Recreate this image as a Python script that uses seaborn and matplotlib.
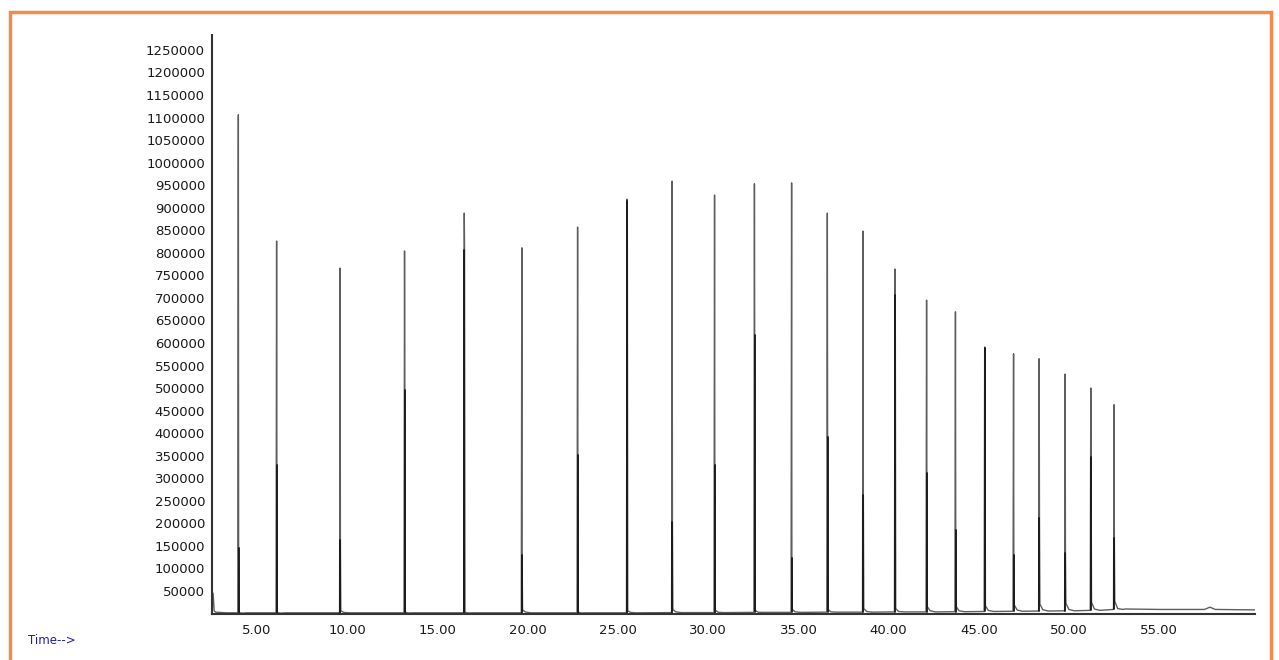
import numpy as np
import pandas as pd
import matplotlib
matplotlib.use("Agg")
import matplotlib.pyplot as plt
from matplotlib.patches import Rectangle
from matplotlib.ticker import MultipleLocator, FuncFormatter
import seaborn as sns

sns.set_style("white")
plt.rcParams['font.family'] = ['DejaVu Sans']

# 峰的保留时间 (min) 与丰度
peak_times = [3.96, 6.08, 9.60, 13.17, 16.48, 19.67, 22.76, 25.50, 28.00, 30.35, 32.56, 34.62,
              36.60, 38.58, 40.35, 42.10, 43.70, 45.32, 46.92, 48.34, 49.78, 51.20, 52.49]
peak_heights = [1106000, 826000, 766000, 804000, 888000, 811000, 857000, 919000, 959000, 928000,
                953000, 955000, 888000, 848000, 764000, 695000, 669000, 591000, 576000, 565000,
                531000, 500000, 463000]
inner_heights = [145000, 329000, 163000, 496000, 806000, 130000, 352000, 915000, 203000, 329000,
                 618000, 123000, 392000, 263000, 707000, 312000, 185000, 588000, 130000, 212000,
                 134000, 347000, 167000]
tail_heights = [2000, 2000, 6000, 3000, 3000, 8000, 3000, 6000, 9000, 7000, 7000, 9000,
                9000, 11000, 11000, 15000, 15000, 17000, 19000, 21000, 23000, 25000, 27000]
base_levels = [1500, 1500, 1500, 1500, 1500, 1500, 1500, 1500, 2000, 2000, 2500, 2500,
               3000, 3000, 3500, 3500, 4000, 4500, 5000, 5500, 6000, 7000, 9000]

# 起始溶剂峰和尾部基线
start_t = [2.50, 2.56, 2.62, 2.70, 3.30]
start_y = [0, 45000, 6000, 3000, 1500]
end_t = [53.10, 55.00, 57.50, 57.80, 58.10, 60.30]
end_y = [10000, 9000, 9000, 14000, 9000, 8000]

y_ticks = list(range(50000, 1250001, 50000))
x_ticks = [5, 10, 15, 20, 25, 30, 35, 40, 45, 50, 55]

# 组装色谱曲线
ts = list(start_t)
ys = list(start_y)
for t, h, ih, th, bl in zip(peak_times, peak_heights, inner_heights, tail_heights, base_levels):
    ts += [t - 0.03, t, t + 0.015, t + 0.04, t + 0.2, t + 0.5]
    ys += [bl, h, ih, th, th * 0.4, bl]
ts += end_t
ys += end_y
df = pd.DataFrame({'time': ts, 'abundance': ys})

# 峰下部较深的部分
inner_rows = []
for i, (t, ih, bl) in enumerate(zip(peak_times, inner_heights, base_levels)):
    inner_rows.append({'peak': i, 'time': t + 0.01, 'abundance': bl})
    inner_rows.append({'peak': i, 'time': t + 0.01, 'abundance': ih})
inner_df = pd.DataFrame(inner_rows)

fig = plt.figure(figsize=(12.79, 6.60), dpi=100)
ax = fig.add_axes([212 / 1279, (660 - 613.5) / 660, (1255 - 212) / 1279, (613.5 - 35) / 660])

sns.lineplot(data=df, x='time', y='abundance', sort=False, estimator=None,
             color='#5e5e5e', linewidth=1.0, ax=ax)
sns.lineplot(data=inner_df, x='time', y='abundance', units='peak', sort=False, estimator=None,
             color='#151515', linewidth=1.3, ax=ax)

ax.set_xlim(2.5, 60.3)
ax.set_ylim(0, 1283000)
ax.set_xticks(x_ticks)
ax.xaxis.set_minor_locator(MultipleLocator(1))
ax.xaxis.set_major_formatter(FuncFormatter(lambda v, p: f"{v:.2f}"))
ax.set_yticks(y_ticks)
ax.yaxis.set_minor_locator(MultipleLocator(10000))
ax.yaxis.set_major_formatter(FuncFormatter(lambda v, p: f"{int(v)}"))
ax.tick_params(axis='both', which='major', labelsize=9.5, direction='out', length=4,
               width=0.8, color='#444444', labelcolor='#1a1a1a')
ax.tick_params(axis='y', which='major', length=3, pad=2)
ax.tick_params(axis='both', which='minor', direction='out', length=2, width=0.6, color='#666666')
ax.set_xlabel('')
ax.set_ylabel('')
for s in ['top', 'right']:
    ax.spines[s].set_visible(False)
for s in ['left', 'bottom']:
    ax.spines[s].set_color('#333333')
    ax.spines[s].set_linewidth(1.5)

fig.text(28 / 1279, 1 - 640 / 660, 'Time-->', color='#1f1fa8', fontsize=8.5, va='center', ha='left')

# 橙色边框
fig.patches.append(Rectangle((10 / 1279, -0.05), (1271 - 10) / 1279, 1.05 - 12 / 660,
                             transform=fig.transFigure, fill=False, edgecolor='#f58a4b',
                             linewidth=2.5))

fig.savefig('out.png', dpi=100)
